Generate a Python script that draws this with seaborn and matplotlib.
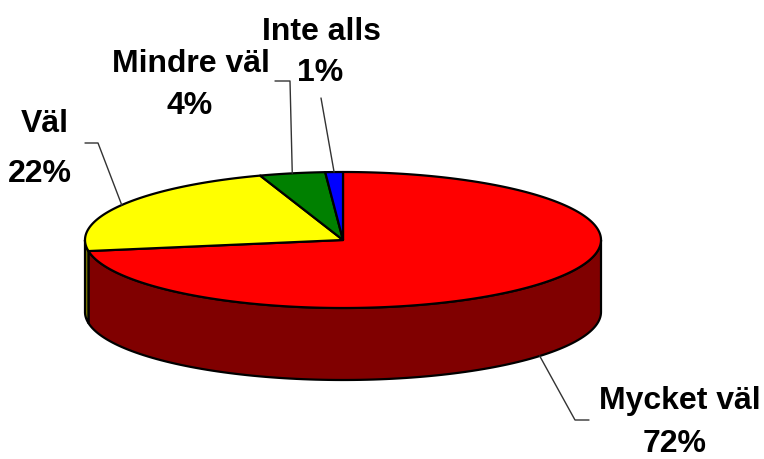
import numpy as np
import matplotlib.pyplot as plt
import seaborn as sns
from matplotlib.patches import Polygon

categories = ['Mycket väl', 'Väl', 'Mindre väl', 'Inte alls']
shares = [72.4, 22.4, 4.1, 1.1]
top_colors = ['#ff0000', '#ffff00', '#008000', '#0000ff']
side_colors = ['#800000', '#808000', '#004000', '#000080']

sns.set_theme(style='white')
plt.rcParams['font.family'] = ['Liberation Sans', 'DejaVu Sans']

fig = plt.figure(figsize=(7.64, 4.59), dpi=100)
ax = fig.add_axes([0, 0, 1, 1])
ax.set_xlim(0, 764)
ax.set_ylim(459, 0)
ax.axis('off')

# ellipse geometry of the tilted pie (pixel units)
cx, cy, rx, ry, depth = 343, 240, 258, 68, 72


def pt(deg, dz=0.0):
    t = np.radians(deg)
    return cx + rx * np.cos(t), cy - ry * np.sin(t) + dz


# slice angles, clockwise from 12 o'clock
spans = []
a0 = 90.0
for s in shares:
    a1 = a0 - s * 3.6
    spans.append((a1, a0))
    a0 = a1

# side walls (front half only)
for (a1, a0), col in zip(spans, side_colors):
    lo, hi = max(a1, -180), min(a0, 0)
    if lo >= hi:
        continue
    th = np.linspace(lo, hi, 120)
    top = [pt(t) for t in th]
    bot = [pt(t, depth) for t in th[::-1]]
    ax.add_patch(Polygon(top + bot, closed=True, fc=col, ec='black',
                         lw=1.6, joinstyle='round'))

# top faces
for (a1, a0), col in zip(spans, top_colors):
    th = np.linspace(a1, a0, max(int((a0 - a1) * 2), 4))
    verts = [(cx, cy)] + [pt(t) for t in th]
    ax.add_patch(Polygon(verts, closed=True, fc=col, ec='black',
                         lw=1.6, joinstyle='round'))

# labels: name baseline centre, percent baseline centre, leader elbow points
name_pos = [(680, 409), (45, 132), (191, 72), (321, 40)]
pct_pos = [(675, 452), (40, 182), (190, 114), (320, 81)]
elbows = [[(589, 420), (575, 420)], [(85, 143), (98, 143)],
          [(275, 81), (290, 81)], [(321, 98)]]

for cat, s, (a1, a0), npos, ppos, el in zip(categories, shares, spans,
                                           name_pos, pct_pos, elbows):
    mid = (a0 + a1) / 2
    tip = pt(mid, depth) if np.sin(np.radians(mid)) < 0 else pt(mid)
    xs = [p[0] for p in el] + [tip[0]]
    ys = [p[1] for p in el] + [tip[1]]
    ax.plot(xs, ys, color='#333333', lw=1.0)
    ax.text(npos[0], npos[1], cat, ha='center', va='baseline',
            fontsize=23, fontweight='bold', color='black')
    ax.text(ppos[0], ppos[1], f'{s:.0f}%', ha='center', va='baseline',
            fontsize=23, fontweight='bold', color='black')

fig.savefig('out.png', dpi=100)
